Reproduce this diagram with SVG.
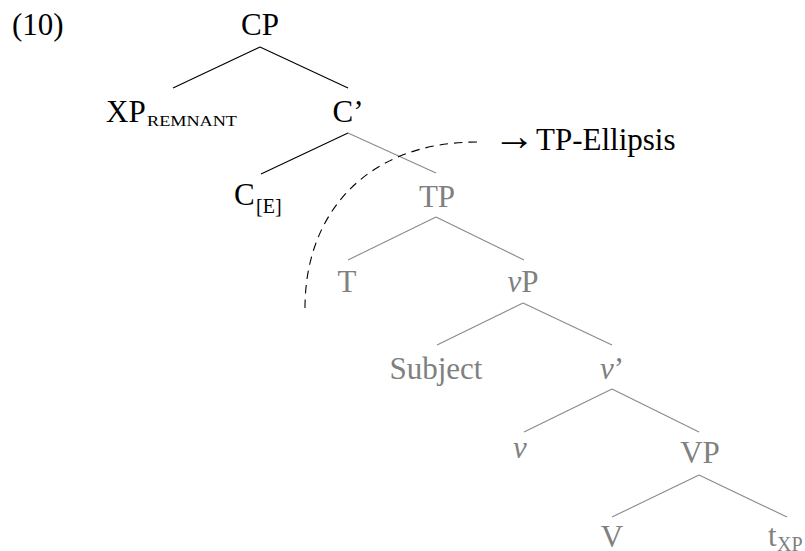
<svg xmlns="http://www.w3.org/2000/svg" width="805" height="551" viewBox="0 0 805 551">
  <style>
    text { font-family: "Liberation Serif", "Times New Roman", serif; font-size: 31px; }
    .k { fill: #000000; }
    .g { fill: #808080; }
    .it { font-style: italic; }
    .sub { font-size: 20px; }
    .sc { font-size: 15px; }
    .arrow { font-size: 42px; }
    .edge { stroke: #000000; stroke-width: 1.1; fill: none; }
    .edge-g { stroke: #8a8a8a; stroke-width: 1.1; fill: none; }
    .ellipsis { stroke: #000000; stroke-width: 1.1; fill: none; stroke-dasharray: 8.5 6; }
  </style>

  <!-- example number -->
  <text id="label" class="k" x="12" y="35">(10)</text>

  <!-- tree branches -->
  <g id="connectors">
    <line class="edge" x1="260" y1="47" x2="173" y2="88"/>
    <line class="edge" x1="260" y1="47" x2="348" y2="88"/>
    <line class="edge" x1="348" y1="133" x2="261" y2="174"/>
    <line class="edge-g" x1="348" y1="133" x2="436" y2="173"/>
    <line class="edge-g" x1="436" y1="217" x2="348" y2="260"/>
    <line class="edge-g" x1="436" y1="217" x2="524" y2="260"/>
    <line class="edge-g" x1="523" y1="303" x2="437" y2="345"/>
    <line class="edge-g" x1="523" y1="303" x2="612" y2="345"/>
    <line class="edge-g" x1="612" y1="389" x2="524" y2="432"/>
    <line class="edge-g" x1="612" y1="389" x2="699" y2="432"/>
    <line class="edge-g" x1="699" y1="475" x2="612" y2="517"/>
    <line class="edge-g" x1="699" y1="475" x2="787" y2="517"/>
    <!-- ellipsis boundary -->
    <path class="ellipsis" d="M 305 308 C 305 210, 370 142, 477 142"/>
  </g>

  <g id="node-CP"><text class="k" x="260" y="35" text-anchor="middle">CP</text></g>
  <g id="node-XP">
    <text class="k" x="106" y="122">XP<tspan class="sc" x="147" y="126" textLength="90" lengthAdjust="spacingAndGlyphs">REMNANT</tspan></text>
  </g>
  <g id="node-Cbar"><text class="k" x="348" y="122" text-anchor="middle">C’</text></g>
  <g id="node-C">
    <text class="k" x="234" y="205">C<tspan class="sub" x="256" y="213">[E]</tspan></text>
  </g>
  <g id="node-TP"><text class="g" x="437" y="207" text-anchor="middle">TP</text></g>
  <g id="node-T"><text class="g" x="347" y="292" text-anchor="middle">T</text></g>
  <g id="node-vP"><text class="g" x="523" y="292" text-anchor="middle"><tspan class="it">v</tspan>P</text></g>
  <g id="node-Subject"><text class="g" x="436" y="379" text-anchor="middle">Subject</text></g>
  <g id="node-vbar"><text class="g" x="612" y="379" text-anchor="middle"><tspan class="it">v</tspan>’</text></g>
  <g id="node-v"><text class="g it" x="520" y="458" text-anchor="middle">v</text></g>
  <g id="node-VP"><text class="g" x="700" y="463" text-anchor="middle">VP</text></g>
  <g id="node-V"><text class="g" x="612" y="547" text-anchor="middle">V</text></g>
  <g id="node-trace">
    <text class="g" x="768" y="546">t<tspan class="sub" x="777" y="551">XP</tspan></text>
  </g>

  <!-- annotation -->
  <g id="note">
    <text class="k arrow" x="493" y="150">→</text>
    <text class="k" x="536" y="150">TP-Ellipsis</text>
  </g>
</svg>
